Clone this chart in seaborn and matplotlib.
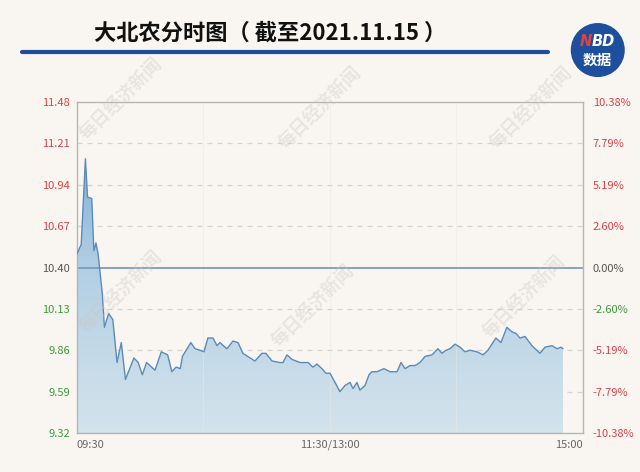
import numpy as np
import pandas as pd
import matplotlib
matplotlib.use("Agg")
import matplotlib.pyplot as plt
from matplotlib.colors import LinearSegmentedColormap
from matplotlib.patches import Ellipse
import seaborn as sns

# --- data (minutes since 09:30, trading time) ---
minutes = [0, 2, 4, 5, 7, 8, 9, 10, 12, 13, 15, 17, 19, 21, 23, 27, 29, 31, 33, 37,
           40, 43, 45, 47, 49, 50, 54, 56, 58.3, 60.2, 62.1, 64.5, 66.4, 67.8, 71.1, 74,
           76.4, 78.7, 82.1, 84.4, 87.7, 89.6, 92.5, 96.3, 97.7, 99.6, 102, 105.8, 109.6,
           111.9, 113.8, 116.2, 118.1, 120, 122.4, 124.7, 127.1, 129.5, 130.9, 132.8, 134.2,
           136.6, 138.5, 139.9, 142.3, 145.6, 148.5, 151.8, 153.7, 155.6, 157.9, 160.3, 162.7,
           165.1, 168.4, 171.2, 173.1, 175, 176.9, 179.3, 181.7, 184, 186.4, 189.7, 192.6,
           194.9, 198.7, 201.1, 203.9, 206.3, 208.2, 210.1, 212.5, 215.8, 219.6, 222, 225.3,
           227.7, 229.6, 230.5]
prices = [10.49, 10.55, 11.11, 10.86, 10.85, 10.51, 10.56, 10.49, 10.23, 10.01, 10.10, 10.06,
          9.78, 9.91, 9.67, 9.81, 9.78, 9.70, 9.78, 9.73, 9.85, 9.83, 9.72, 9.75, 9.74, 9.82,
          9.91, 9.87, 9.86, 9.85, 9.94, 9.94, 9.89, 9.91, 9.87, 9.92, 9.91, 9.84, 9.81, 9.79,
          9.84, 9.84, 9.79, 9.78, 9.78, 9.83, 9.80, 9.78, 9.78, 9.75, 9.77, 9.74, 9.71, 9.71,
          9.65, 9.59, 9.63, 9.65, 9.61, 9.65, 9.60, 9.63, 9.70, 9.72, 9.72, 9.74, 9.72, 9.72,
          9.78, 9.74, 9.76, 9.76, 9.78, 9.82, 9.83, 9.87, 9.84, 9.86, 9.87, 9.90, 9.88, 9.85,
          9.86, 9.85, 9.83, 9.86, 9.94, 9.91, 10.01, 9.98, 9.97, 9.94, 9.95, 9.89, 9.84, 9.88,
          9.89, 9.87, 9.88, 9.87]

PREV_CLOSE = 10.40
price_ticks = [9.32, 9.59, 9.86, 10.13, 10.40, 10.67, 10.94, 11.21, 11.48]
price_labels = ["9.32", "9.59", "9.86", "10.13", "10.40", "10.67", "10.94", "11.21", "11.48"]
pct_ticks = [-10.38, -7.79, -5.19, -2.60, 0.0, 2.60, 5.19, 7.79, 10.38]
pct_labels = ["-10.38%", "-7.79%", "-5.19%", "-2.60%", "0.00%", "2.60%", "5.19%", "7.79%", "10.38%"]
x_ticks = [0, 120, 240]
x_labels = ["09:30", "11:30/13:00", "15:00"]
TITLE = "大北农分时图（ 截至2021.11.15 ）"

RED, GREEN, GREY = "#d8424a", "#3b9a3b", "#555555"
BG = "#f9f6f2"

df = pd.DataFrame({"minute": minutes, "price": prices})

sns.set_theme(style="white")
plt.rcParams["font.family"] = ["Noto Sans CJK SC", "DejaVu Sans"]

fig = plt.figure(figsize=(6.4, 4.72), dpi=100, facecolor=BG)
ax = fig.add_axes([0.1203, 0.0826, 0.7906, 0.7013])
ax.set_facecolor(BG)

ymin, ymax = price_ticks[0], price_ticks[-1]
ax.set_xlim(0, 240)
ax.set_ylim(ymin, ymax)

# gradient area under the curve
cmap = LinearSegmentedColormap.from_list("fill", ["#d4e3ec", "#b2cfe4", "#69a2d2"])
grad = np.linspace(0, 1, 256).reshape(-1, 1)
img = ax.imshow(grad, cmap=cmap, origin="lower", aspect="auto",
                extent=[0, 240, ymin, ymax], zorder=1)
poly = ax.fill_between(df["minute"], df["price"], ymin, color="none", lw=0)
clip = poly.get_paths()[0]
img.set_clip_path(clip, transform=ax.transData)

# grid
for t in price_ticks[1:-1]:
    if t != PREV_CLOSE:
        ax.axhline(t, color="#d6d3cf", lw=0.9, ls=(0, (4, 4)), zorder=0.5)
for t in [60, 120, 180]:
    ax.axvline(t, color="#ebe8e5", lw=0.6, alpha=0.6, zorder=1.5)

sns.lineplot(data=df, x="minute", y="price", ax=ax, color="#5b8bb8", lw=1.0, zorder=3)
ax.axhline(PREV_CLOSE, color="#7d9db8", lw=1.3, zorder=2.5)

for s in ax.spines.values():
    s.set_color("#b5b5b5")
    s.set_linewidth(1.0)

ax.set_xlabel("")
ax.set_ylabel("")
ax.set_yticks(price_ticks)
ax.set_yticklabels(price_labels, fontsize=8)
for lab, t in zip(ax.get_yticklabels(), price_ticks):
    lab.set_color(RED if t > PREV_CLOSE else (GREY if t == PREV_CLOSE else GREEN))
ax.set_xticks(x_ticks)
ax.set_xticklabels(x_labels, fontsize=8, color="#666666")
xl = ax.get_xticklabels()
xl[0].set_ha("left")
xl[-1].set_ha("right")
ax.tick_params(length=0, pad=5)

ax2 = ax.twinx()
ax2.set_ylim(pct_ticks[0], pct_ticks[-1])
ax2.set_yticks(pct_ticks)
ax2.set_yticklabels(pct_labels, fontsize=8)
for lab, t in zip(ax2.get_yticklabels(), pct_ticks):
    lab.set_color(GREY if t == 0 else (GREEN if t == -2.60 else RED))
ax2.tick_params(length=0, pad=7)
for s in ax2.spines.values():
    s.set_visible(False)

# watermarks
for wx, wy in [(0.19, 0.79), (0.50, 0.77), (0.83, 0.77),
               (0.19, 0.38), (0.49, 0.35), (0.82, 0.37)]:
    fig.text(wx, wy, "每日经济新闻", fontsize=13, color="#c9c5c0", alpha=0.35,
             rotation=45, ha="center", va="center", fontweight="bold")

# header
fig.text(0.422, 0.930, TITLE, fontsize=16, fontweight="bold", color="#111111",
         ha="center", va="center")
fig.add_artist(plt.Line2D([0.034, 0.857], [0.889, 0.889], color="#1f4f98", lw=3))
r_px = 27
fig.add_artist(Ellipse((0.934, 0.894), 2 * r_px / 640, 2 * r_px / 472,
                       transform=fig.transFigure, facecolor="#1d4f9c", edgecolor="none"))
fig.text(0.915, 0.913, "N", fontsize=10.5, fontweight="bold", style="italic",
         color="#e8413c", ha="center", va="center", family="DejaVu Sans")
fig.text(0.943, 0.913, "BD", fontsize=10.5, fontweight="bold", style="italic",
         color="white", ha="center", va="center", family="DejaVu Sans")
fig.text(0.934, 0.873, "数据", fontsize=10.5, fontweight="bold", color="white",
         ha="center", va="center")

fig.savefig("out.png", dpi=100, facecolor=BG)
